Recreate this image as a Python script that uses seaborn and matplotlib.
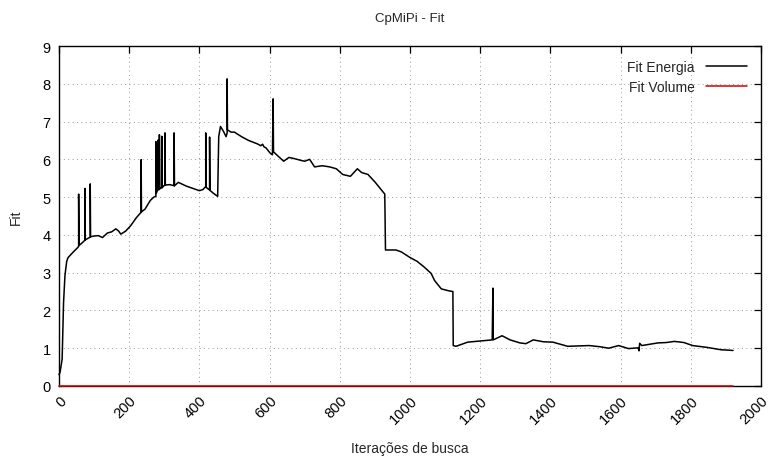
import pandas as pd
import seaborn as sns
import matplotlib.pyplot as plt

# dados
iter_energia = [0, 3, 9, 13, 17, 22, 26, 40, 54,
                56, 56, 57, 65, 74, 74, 75, 85, 89, 89, 90,
                100, 112, 124, 138, 150, 162, 170, 176, 190, 204, 220,
                234, 234, 235, 245, 260, 270,
                276, 276, 277, 282, 282, 283, 286, 286, 287, 293, 293, 294,
                302, 302, 303, 316, 328, 328, 329, 340, 363, 385, 400, 410,
                418, 418, 419, 427, 429, 429, 430, 440, 452, 455, 460, 468, 476,
                479, 479, 480, 490, 500, 508, 520, 540, 565, 575, 580, 584, 590, 601,
                608, 610, 611, 620, 640, 655, 670, 690, 700, 714, 728, 750, 771,
                790, 808, 830, 850, 862, 880, 900, 928, 930, 960, 975, 1000, 1020,
                1040, 1060, 1070, 1089, 1110, 1122, 1123, 1131, 1164, 1200,
                1234, 1236, 1237, 1262, 1285, 1313, 1330, 1351, 1380, 1407, 1449,
                1480, 1510, 1540, 1566, 1594, 1622, 1650, 1652, 1654, 1660, 1706,
                1730, 1753, 1780, 1805, 1847, 1885, 1920]
fit_energia = [0.30, 0.36, 0.71, 2.2, 2.92, 3.3, 3.4, 3.54, 3.67,
               3.70, 5.08, 3.72, 3.78, 3.86, 5.23, 3.87, 3.92, 3.94, 5.35, 3.95,
               3.97, 3.98, 3.93, 4.05, 4.08, 4.16, 4.10, 4.02, 4.10, 4.24, 4.45,
               4.60, 5.99, 4.61, 4.68, 4.91, 5.00,
               5.02, 6.47, 5.10, 5.20, 6.51, 5.20, 5.20, 6.65, 5.22, 5.25, 6.61, 5.25,
               5.33, 6.70, 5.32, 5.33, 5.30, 6.70, 5.30, 5.39, 5.29, 5.22, 5.17, 5.20,
               5.28, 6.70, 5.26, 5.20, 5.20, 6.59, 5.18, 5.10, 5.02, 6.60, 6.87, 6.75, 6.60,
               6.70, 8.13, 6.78, 6.72, 6.72, 6.67, 6.60, 6.50, 6.41, 6.36, 6.40, 6.33, 6.30, 6.17,
               6.12, 7.60, 6.20, 6.12, 5.95, 6.05, 6.02, 5.97, 5.95, 6.00, 5.80, 5.83, 5.80,
               5.75, 5.60, 5.55, 5.75, 5.65, 5.60, 5.40, 5.08, 3.60, 3.60, 3.55, 3.40, 3.30,
               3.15, 2.98, 2.79, 2.57, 2.52, 2.50, 1.07, 1.05, 1.16, 1.19,
               1.22, 2.59, 1.22, 1.33, 1.22, 1.14, 1.12, 1.22, 1.17, 1.16, 1.05,
               1.06, 1.07, 1.04, 1.00, 1.07, 0.99, 1.01, 0.93, 1.13, 1.07, 1.14,
               1.15, 1.18, 1.15, 1.07, 1.02, 0.96, 0.94]
iter_volume = [0, 1920]
fit_volume = [0.0, 0.0]

df = pd.concat([
    pd.DataFrame({'iter': iter_energia, 'fit': fit_energia, 'serie': 'Fit Energia'}),
    pd.DataFrame({'iter': iter_volume, 'fit': fit_volume, 'serie': 'Fit Volume'}),
], ignore_index=True)

sns.set_style('white')
plt.rcParams['font.family'] = ['Liberation Sans', 'DejaVu Sans']

fig = plt.figure(figsize=(7.75, 4.64), dpi=100)
ax = fig.add_axes([0.0761, 0.166, 0.906, 0.7327])
sns.lineplot(data=df, x='iter', y='fit', hue='serie', estimator=None, sort=False,
             palette={'Fit Energia': 'black', 'Fit Volume': '#d00000'},
             linewidth=1.1, ax=ax, clip_on=False, zorder=3)

ax.set_xlim(0, 2000)
ax.set_ylim(0, 9)
ax.set_xticks(range(0, 2001, 200))
ax.set_yticks(range(0, 10))
ax.set_xticklabels([str(v) for v in range(0, 2001, 200)], rotation=45, ha='right',
                   va='top', rotation_mode='anchor')
ax.tick_params(direction='in', length=5, width=0.9, top=True, right=True,
               labelsize=10.5, colors='black')
ax.tick_params(axis='x', pad=5)
ax.tick_params(axis='y', pad=6)
ax.grid(True, linestyle=(0, (1, 3.5)), color='#999999', linewidth=0.7)
for s in ax.spines.values():
    s.set_linewidth(1.0)
    s.set_color('black')

ax.set_xlabel('Iterações de busca', fontsize=10, labelpad=11)
ax.set_ylabel('Fit', fontsize=10, labelpad=14)
ax.set_title('CpMiPi - Fit', fontsize=9.5, pad=18)

leg = ax.legend(loc='upper right', frameon=False, markerfirst=False, fontsize=10,
                handlelength=3.0, labelspacing=0.45, borderaxespad=0.6)
for t in leg.get_texts():
    t.set_ha('right')

fig.savefig('out.png', dpi=100)
